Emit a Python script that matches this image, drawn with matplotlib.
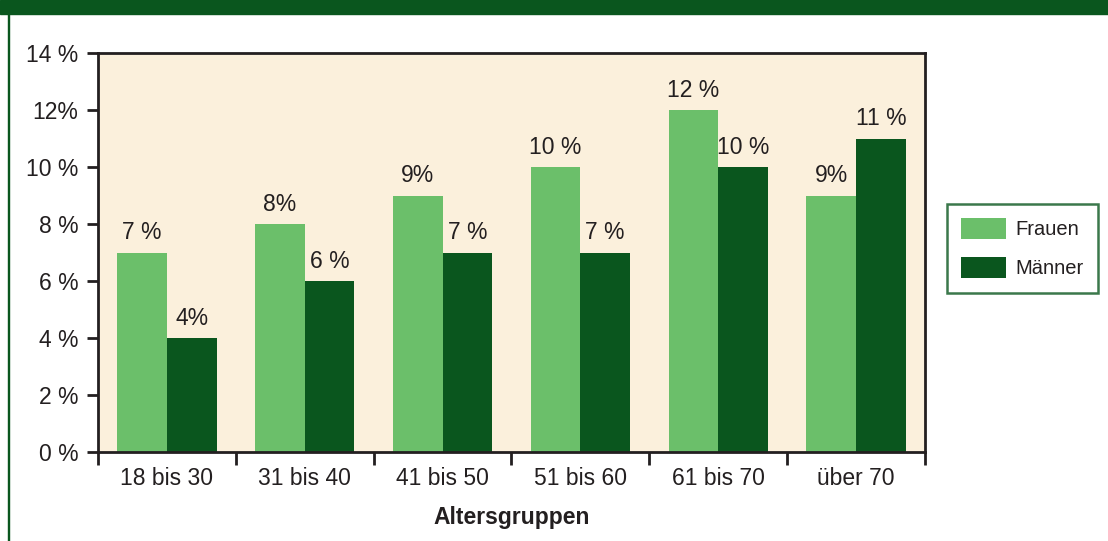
import numpy as np
import matplotlib
matplotlib.use("Agg")
import matplotlib.pyplot as plt
from matplotlib.patches import Rectangle

plt.rcParams["font.family"] = ["Liberation Sans", "DejaVu Sans"]

# data
groups = ["18 bis 30", "31 bis 40", "41 bis 50", "51 bis 60", "61 bis 70", "über 70"]
frauen = [7, 8, 9, 10, 12, 9]
maenner = [4, 6, 7, 7, 10, 11]
frauen_labels = ["7 %", "8%", "9%", "10 %", "12 %", "9%"]
maenner_labels = ["4%", "6 %", "7 %", "7 %", "10 %", "11 %"]
yticks = [0, 2, 4, 6, 8, 10, 12, 14]
ytick_labels = ["0 %", "2 %", "4 %", "6 %", "8 %", "10 %", "12%", "14 %"]

LIGHT = "#6bbf6a"
DARK = "#0a561e"
CREAM = "#fbf0dc"
INK = "#231f20"
FS = 16.5

fig = plt.figure(figsize=(11.08, 5.41), dpi=100)
W, H = 1108, 541

# green header band and left border line
fig.patches.append(Rectangle((0, 1 - 14 / H), 1, 14 / H, transform=fig.transFigure,
                             color=DARK, zorder=0))
fig.patches.append(Rectangle((7.5 / W, 0), 1.5 / W, 1 - 14 / H, transform=fig.transFigure,
                             color=DARK, zorder=0))

ax = fig.add_axes([98 / W, 1 - 452 / H, (925 - 98) / W, (452 - 53) / H])
ax.set_facecolor(CREAM)

x = np.arange(len(groups))
bw = 0.36
b1 = ax.bar(x - bw / 2, frauen, bw, color=LIGHT, label="Frauen", zorder=2)
b2 = ax.bar(x + bw / 2, maenner, bw, color=DARK, label="Männer", zorder=2)
ax.bar_label(b1, labels=frauen_labels, padding=6, fontsize=FS, color=INK)
ax.bar_label(b2, labels=maenner_labels, padding=6, fontsize=FS, color=INK)

ax.set_xlim(-0.5, len(groups) - 0.5)
ax.set_ylim(0, 14)
ax.set_yticks(yticks)
ax.set_yticklabels(ytick_labels, fontsize=FS, color=INK)
ax.set_xticks(x)
ax.set_xticklabels(groups, fontsize=FS, color=INK)
ax.tick_params(axis="x", length=0, pad=11)
ax.set_xticks(np.arange(-0.5, len(groups)), minor=True)
ax.tick_params(axis="x", which="minor", length=9, width=2, color=INK)
ax.tick_params(axis="y", length=8, width=2, color=INK, pad=6)
for s in ax.spines.values():
    s.set_linewidth(2)
    s.set_color(INK)

ax.set_xlabel("Altersgruppen", fontsize=FS, fontweight="bold", color=INK, labelpad=11)

leg = ax.legend(loc="upper left", bbox_to_anchor=(947 / W, 1 - 204 / H),
                bbox_transform=fig.transFigure, fontsize=14.5, frameon=True,
                fancybox=False, edgecolor=DARK, handlelength=2.25, handleheight=1.2,
                labelspacing=0.9, borderpad=0.7, handletextpad=0.45, borderaxespad=0)
leg.get_frame().set_linewidth(1.8)
for t in leg.get_texts():
    t.set_color(INK)

fig.savefig("out.png", dpi=100)
